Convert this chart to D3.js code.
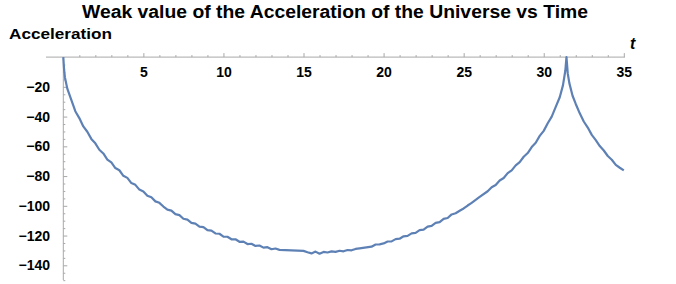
<!DOCTYPE html>
<html><head><meta charset="utf-8">
<script src="https://cdn.jsdelivr.net/npm/d3@7"></script>
<style>
html,body{margin:0;padding:0;background:#fff;}
svg{display:block;font-family:"Liberation Sans",Arial,sans-serif;}
</style></head>
<body><svg id="chart" width="676" height="284"></svg>
<script>
const title = "Weak value of the Acceleration of the Universe vs Time";
const yLabel = "Acceleration";
const xLabel = "t";
const xTicks = [5, 10, 15, 20, 25, 30, 35];
const yTicks = [-20, -40, -60, -80, -100, -120, -140];
const times = [0,0.05,0.1,0.25,0.5,0.75,1,1.25,1.5,1.75,2,2.25,2.5,2.75,3,3.25,3.5,3.75,4,4.25,4.5,4.75,5,5.25,5.5,5.75,6,6.25,6.5,6.75,7,7.25,7.5,7.75,8,8.25,8.5,8.75,9,9.25,9.5,9.75,10,10.25,10.5,10.75,11,11.25,11.5,11.75,12,12.25,12.5,12.75,13,13.25,13.5,15,15.25,15.5,15.75,16,16.25,16.5,16.75,17,17.25,17.5,17.75,18,18.25,18.5,19.25,19.5,19.75,20,20.25,20.5,20.75,21,21.25,21.5,21.75,22,22.25,22.5,22.75,23,23.25,23.5,23.75,24,24.25,24.5,24.75,25,25.25,25.5,26,26.5,26.75,27,27.25,27.5,27.75,28,28.25,28.5,28.75,29,29.25,29.5,29.75,30,30.25,30.5,30.75,31,31.2,31.35,31.42,31.5,31.6,31.8,32,32.25,32.5,32.75,33,33.25,33.5,33.75,34,34.25,34.5,34.75,35];
const accel = [0,-8.5,-13.5,-21.2,-28.8,-36.4,-41.0,-46.6,-50.2,-55.0,-58.0,-62.3,-64.8,-68.9,-70.8,-74.6,-76.1,-79.8,-81.2,-84.7,-85.9,-89.1,-90.3,-93.2,-94.3,-97.0,-98.0,-100.5,-102.6,-103.2,-105.6,-106.3,-108.7,-109.3,-111.5,-112.0,-114.0,-114.3,-116.4,-116.7,-118.6,-118.8,-120.7,-120.8,-122.5,-122.5,-124.2,-124.1,-125.7,-125.5,-127.0,-126.7,-128.1,-127.8,-129.2,-128.7,-129.6,-130.3,-131.2,-132.0,-130.8,-132.2,-131.0,-131.4,-130.6,-131.0,-130.2,-130.6,-129.7,-129.9,-129.0,-128.6,-127.5,-126.0,-125.9,-125.3,-124.0,-123.9,-122.4,-122.1,-120.5,-120.2,-118.5,-118.2,-116.4,-116.0,-114.0,-113.5,-111.5,-111.0,-108.8,-108.2,-105.8,-105.0,-103.3,-101.8,-99.8,-98.0,-94.0,-90.2,-87.5,-86.0,-83.0,-81.3,-78.0,-76.2,-72.8,-70.6,-67.0,-64.5,-60.5,-57.6,-53.0,-49.6,-44.5,-40.0,-33.5,-27.0,-19.0,-9.0,0,-11.0,-17.5,-26.0,-31.5,-37.8,-43.3,-47.4,-52.3,-55.8,-59.8,-62.8,-66.5,-69.0,-72.5,-74.4,-76.2];

const svg = d3.select("#chart");
const x = d3.scaleLinear().domain([0, 35]).range([63.3, 623.8]);
const y = d3.scaleLinear().domain([0, -140]).range([57.1, 265.3]);
const axisColor = "#a8a8a8";

svg.append("text").attr("x", 335).attr("y", 18.3).attr("text-anchor", "middle")
  .attr("font-size", 18).attr("font-weight", "bold").attr("textLength", 506)
  .attr("lengthAdjust", "spacingAndGlyphs").text(title);
svg.append("text").attr("x", 9).attr("y", 39.3).attr("font-size", 15)
  .attr("font-weight", "bold").attr("textLength", 103)
  .attr("lengthAdjust", "spacingAndGlyphs").text(yLabel);
svg.append("text").attr("x", 630).attr("y", 49).attr("font-size", 16)
  .attr("font-weight", "bold").attr("font-style", "italic").text(xLabel);

const xMinor = d3.range(1, 36).filter(d => d % 5 !== 0);
const gx = svg.append("g").attr("transform", `translate(0,${y(0)})`);
gx.append("g").call(d3.axisBottom(x).tickValues(xMinor).tickSize(-2).tickFormat(""));
gx.append("g").call(d3.axisBottom(x).tickValues(xTicks).tickSize(-4).tickPadding(10).tickFormat(d3.format("d")));
gx.selectAll(".domain").remove();
gx.append("line").attr("x1", 46).attr("x2", 625).attr("y1", 0).attr("y2", 0);

const yMinor = d3.range(-5, -151, -5).filter(d => d % 20 !== 0);
const gy = svg.append("g").attr("transform", `translate(${x(0)},0)`);
gy.append("g").call(d3.axisLeft(y).tickValues(yMinor).tickSize(-2).tickFormat(""));
gy.append("g").call(d3.axisLeft(y).tickValues(yTicks).tickSize(-4).tickPadding(13.3)
  .tickFormat(d => "\u2212" + Math.abs(d)));
gy.selectAll(".domain").remove();
gy.append("line").attr("x1", 0).attr("x2", 0).attr("y1", y(0)).attr("y2", 280);

svg.selectAll("g line").attr("stroke", axisColor).attr("stroke-width", 1);
svg.selectAll(".tick text").attr("font-size", 14).attr("font-weight", "bold")
  .attr("font-family", "Liberation Sans, Arial, sans-serif").attr("fill", "#000");

const pts = times.map((t, i) => [t, accel[i]]);
svg.append("path").datum(pts)
  .attr("fill", "none").attr("stroke", "#5E81B5").attr("stroke-width", 2.2)
  .attr("stroke-linejoin", "round")
  .attr("d", d3.line().x(d => x(d[0])).y(d => y(d[1])));
</script></body></html>
